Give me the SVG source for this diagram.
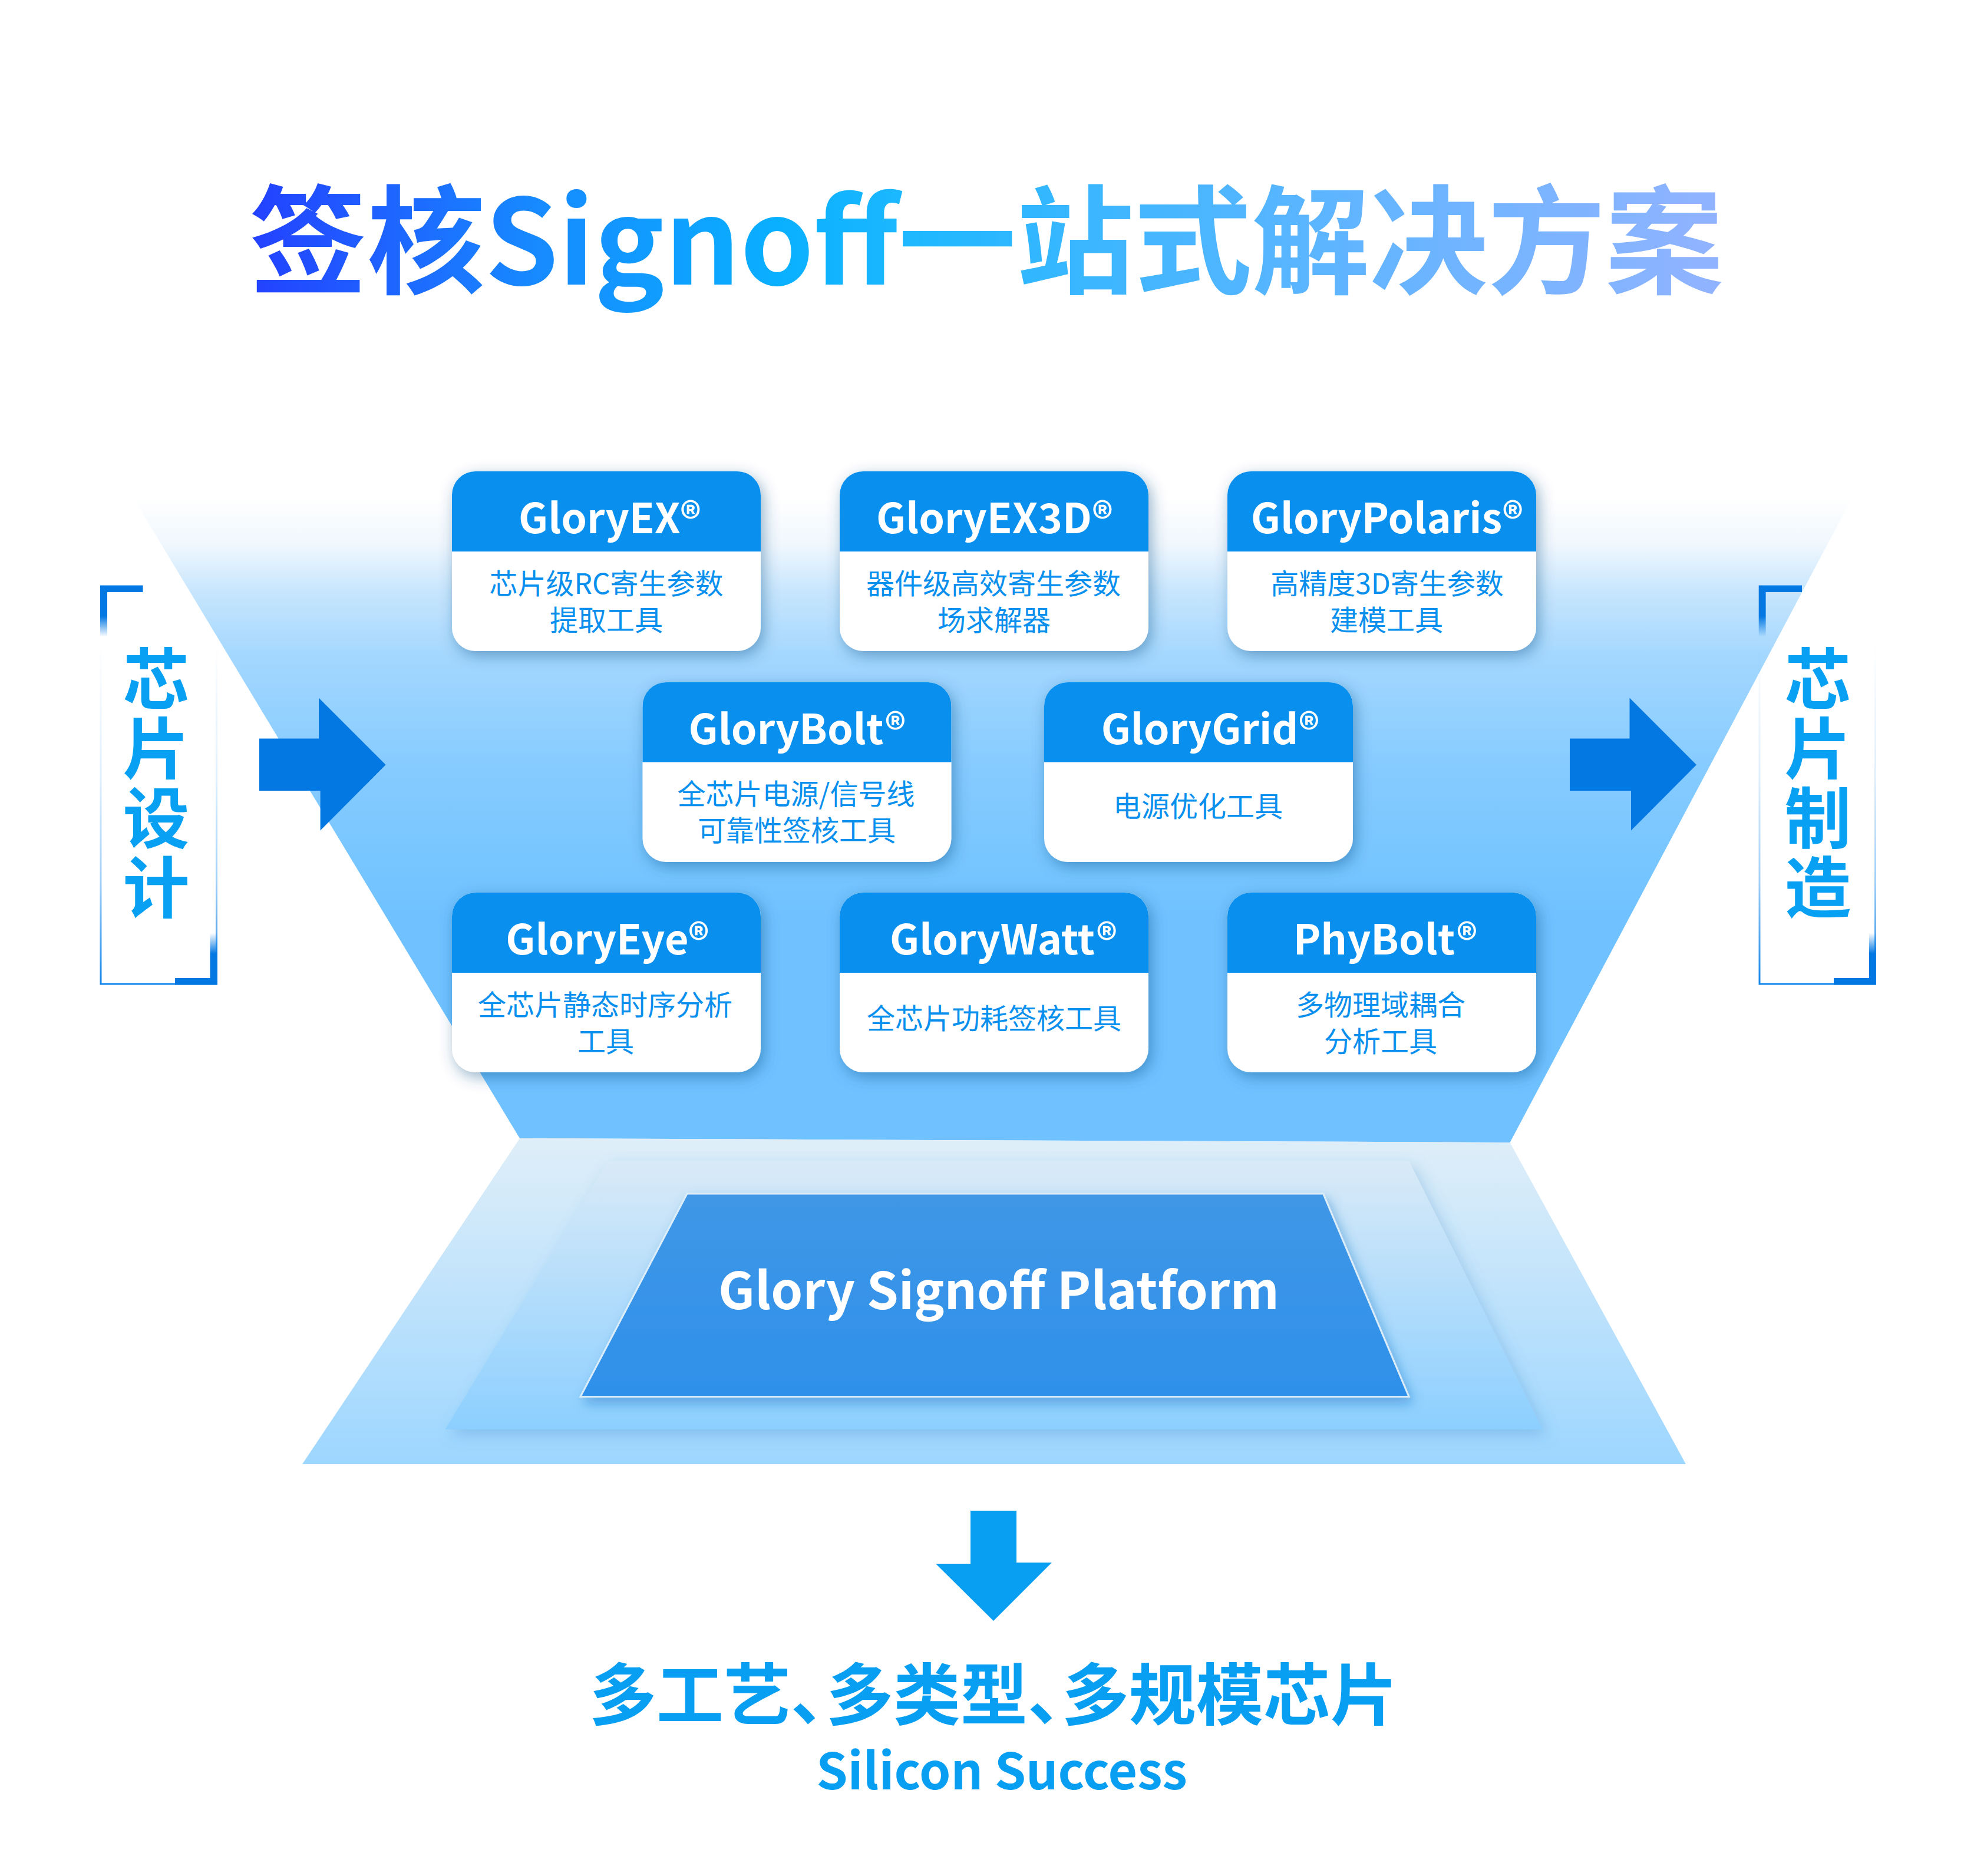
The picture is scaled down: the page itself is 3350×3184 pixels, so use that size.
<svg xmlns="http://www.w3.org/2000/svg" width="3350" height="3184" viewBox="0 0 3350 3184">
<style>
text{font-family:"Noto Sans CJK SC","Noto Sans",sans-serif}
.card{fill:#fff;filter:url(#cs)}
.hd{fill:#098fed}
.t{fill:#fff;font-size:70px;font-weight:700;text-anchor:middle}
.s{fill:#098fed;font-size:48px;font-weight:400;text-anchor:middle}
.side{fill:#08a0f2;font-size:113px;font-weight:700;text-anchor:middle}
.arrow{fill:#0478e2}
</style>
<defs>
<filter id="cs" x="-15%" y="-15%" width="130%" height="135%"><feDropShadow dx="5" dy="8" stdDeviation="13" flood-color="#0b4a80" flood-opacity=".42"/></filter>
<filter id="ms" x="-10%" y="-10%" width="120%" height="125%"><feDropShadow dx="8" dy="10" stdDeviation="12" flood-color="#3b86c8" flood-opacity=".3"/></filter>
<filter id="is" x="-10%" y="-10%" width="120%" height="125%"><feDropShadow dx="6" dy="10" stdDeviation="10" flood-color="#1f6fc0" flood-opacity=".45"/></filter>
<linearGradient id="fun" gradientUnits="userSpaceOnUse" x1="0" y1="810" x2="0" y2="1939">
<stop offset=".03" stop-color="#fff"/><stop offset=".1" stop-color="#f0f7fd"/><stop offset=".17" stop-color="#c8e6fd"/><stop offset=".27" stop-color="#a3d7fe"/><stop offset=".44" stop-color="#85cbff"/><stop offset=".66" stop-color="#6fc2ff"/><stop offset="1" stop-color="#6fc2ff"/>
</linearGradient>
<linearGradient id="o" gradientUnits="userSpaceOnUse" x1="0" y1="1932" x2="0" y2="2485"><stop offset="0" stop-color="#dfeef8"/><stop offset="1" stop-color="#9dd6ff"/></linearGradient>
<linearGradient id="m" gradientUnits="userSpaceOnUse" x1="0" y1="1970" x2="0" y2="2426"><stop offset="0" stop-color="#d9eaf7"/><stop offset="1" stop-color="#8ccfff"/></linearGradient>
<linearGradient id="i" gradientUnits="userSpaceOnUse" x1="0" y1="2026" x2="0" y2="2371"><stop offset="0" stop-color="#4097e6"/><stop offset="1" stop-color="#2e90ea"/></linearGradient>
<linearGradient id="ti" gradientUnits="userSpaceOnUse" x1="427" y1="0" x2="2923" y2="0">
<stop offset="0" stop-color="#2341ff"/><stop offset=".08" stop-color="#1f5fff"/><stop offset=".19" stop-color="#1789ff"/><stop offset=".36" stop-color="#09b0ff"/><stop offset=".45" stop-color="#1eb8ff"/><stop offset=".6" stop-color="#42b6ff"/><stop offset=".8" stop-color="#6cb4ff"/><stop offset="1" stop-color="#92b3ff"/>
</linearGradient>
<linearGradient id="fr" gradientUnits="userSpaceOnUse" x1="0" y1="1090" x2="0" y2="1671"><stop offset="0" stop-color="#1486ea" stop-opacity="0"/><stop offset=".4" stop-color="#1486ea" stop-opacity=".14"/><stop offset=".7" stop-color="#1486ea" stop-opacity=".4"/><stop offset="1" stop-color="#1486ea"/></linearGradient>
<linearGradient id="b1" x1="0" y1="0" x2="0" y2="1"><stop offset="0" stop-color="#0478e2"/><stop offset=".6" stop-color="#0478e2"/><stop offset="1" stop-color="#0478e2" stop-opacity="0"/></linearGradient>
<linearGradient id="b2" x1="0" y1="0" x2="0" y2="1"><stop offset="0" stop-color="#0478e2" stop-opacity="0"/><stop offset=".4" stop-color="#0478e2"/><stop offset="1" stop-color="#0478e2"/></linearGradient>
</defs>
<rect width="3350" height="3184" fill="#fff"/>
<text id="title" x="423" y="483" font-size="200" font-weight="700" fill="url(#ti)">签核Signoff一站式解决方案</text>
<g id="funnel"><polygon points="199,800 3167,800 2562.5,1939 882,1932" fill="url(#fun)"/></g>
<g id="platform">
<polygon points="882,1932 2562.5,1939 2861,2485 513,2485" fill="url(#o)"/>
<polygon points="1032,1970 2391,1970 2618,2426 755.5,2426" fill="url(#m)" filter="url(#ms)"/>
<polygon points="1166,2026 2245.6,2026 2391,2370.5 985,2370.5" fill="url(#i)" stroke="#dcedfa" stroke-width="3" filter="url(#is)"/>
<text x="1695" y="2222" font-size="86.500" font-weight="700" fill="#fff" text-anchor="middle">Glory Signoff Platform</text>
</g>
<g id="design">
<path d="M171 1090V1670H367.500V1090" fill="none" stroke="url(#fr)" stroke-width="3"/>
<path d="M170 993.500H242.500V1005H182V1081H170Z" fill="url(#b1)"/>
<path d="M368.800 1671.400H297V1660H356.500V1583.600H368.800Z" fill="url(#b2)"/>
<text class="side" x="265 265 265 265" y="1194 1312 1430 1548">芯片设计</text>
</g>
<g id="manufacture">
<path d="M2986 1090V1670H3182.500V1090" fill="none" stroke="url(#fr)" stroke-width="3"/>
<path d="M2984.700 993.500H3058V1005H2996.600V1081H2984.700Z" fill="url(#b1)"/>
<path d="M3183.700 1671.400H3112V1660H3172V1583.600H3183.700Z" fill="url(#b2)"/>
<text class="side" x="3085 3085 3085 3085" y="1194 1312 1430 1548">芯片制造</text>
</g>
<g id="connectors">
<polygon class="arrow" points="440,1253.500 541,1253.500 541,1184.600 654.600,1298 543.600,1409.600 543.600,1342 440,1342"/>
<polygon class="arrow" points="2664,1253.500 2765.500,1253.500 2765.500,1184.600 2879,1298 2768,1409.600 2768,1342 2664,1342"/>
<polygon fill="#089ef2" points="1647,2564 1725,2564 1725,2652 1785,2652 1686,2751 1588,2654 1647,2654"/>
</g>
<g id="gloryex"><rect class="card" x="767" y="800" width="524" height="305" rx="40"/><path class="hd" d="M767 936V840a40 40 0 0 1 40-40H1251a40 40 0 0 1 40 40V936Z"/><text class="t" x="1035" y="905">GloryEX®</text><text class="s" x="1029" y="1008">芯片级RC寄生参数</text><text class="s" x="1029" y="1070">提取工具</text></g>
<g id="gloryex3d"><rect class="card" x="1425" y="800" width="524" height="305" rx="40"/><path class="hd" d="M1425 936V840a40 40 0 0 1 40-40H1909a40 40 0 0 1 40 40V936Z"/><text class="t" x="1688" y="905">GloryEX3D®</text><text class="s" x="1686" y="1008">器件级高效寄生参数</text><text class="s" x="1687" y="1070">场求解器</text></g>
<g id="glorypolaris"><rect class="card" x="2083" y="800" width="524" height="305" rx="40"/><path class="hd" d="M2083 936V840a40 40 0 0 1 40-40H2567a40 40 0 0 1 40 40V936Z"/><text class="t" x="2354" y="905">GloryPolaris®</text><text class="s" x="2354" y="1008">高精度3D寄生参数</text><text class="s" x="2353" y="1070">建模工具</text></g>
<g id="glorybolt"><rect class="card" x="1090.500" y="1158" width="524" height="305" rx="40"/><path class="hd" d="M1090.500 1293.500V1198a40 40 0 0 1 40-40H1574.500a40 40 0 0 1 40 40V1293.500Z"/><text class="t" x="1353" y="1263">GloryBolt®</text><text class="s" x="1351" y="1365">全芯片电源/信号线</text><text class="s" x="1352" y="1427">可靠性签核工具</text></g>
<g id="glorygrid"><rect class="card" x="1772" y="1158" width="524" height="305" rx="40"/><path class="hd" d="M1772 1293.500V1198a40 40 0 0 1 40-40H2256a40 40 0 0 1 40 40V1293.500Z"/><text class="t" x="2054" y="1263">GloryGrid®</text><text class="s" x="2033" y="1386">电源优化工具</text></g>
<g id="gloryeye"><rect class="card" x="767" y="1515" width="524" height="305" rx="40"/><path class="hd" d="M767 1651V1555a40 40 0 0 1 40-40H1251a40 40 0 0 1 40 40V1651Z"/><text class="t" x="1031" y="1620">GloryEye®</text><text class="s" x="1027" y="1723">全芯片静态时序分析</text><text class="s" x="1028" y="1785">工具</text></g>
<g id="glorywatt"><rect class="card" x="1425" y="1515" width="524" height="305" rx="40"/><path class="hd" d="M1425 1651V1555a40 40 0 0 1 40-40H1909a40 40 0 0 1 40 40V1651Z"/><text class="t" x="1703" y="1620">GloryWatt®</text><text class="s" x="1687" y="1746">全芯片功耗签核工具</text></g>
<g id="phybolt"><rect class="card" x="2083" y="1515" width="524" height="305" rx="40"/><path class="hd" d="M2083 1651V1555a40 40 0 0 1 40-40H2567a40 40 0 0 1 40 40V1651Z"/><text class="t" x="2351" y="1620">PhyBolt®</text><text class="s" x="2343" y="1723">多物理域耦合</text><text class="s" x="2343" y="1785">分析工具</text></g>
<g id="result">
<text font-size="114" font-weight="700" fill="#089ef2" y="2918"><tspan x="1000">多工艺、</tspan><tspan x="1402">多类型、</tspan><tspan x="1802">多规模芯片</tspan></text>
<text x="1700" y="3037" font-size="85.500" font-weight="700" fill="#089ef2" text-anchor="middle">Silicon Success</text>
</g>
</svg>
